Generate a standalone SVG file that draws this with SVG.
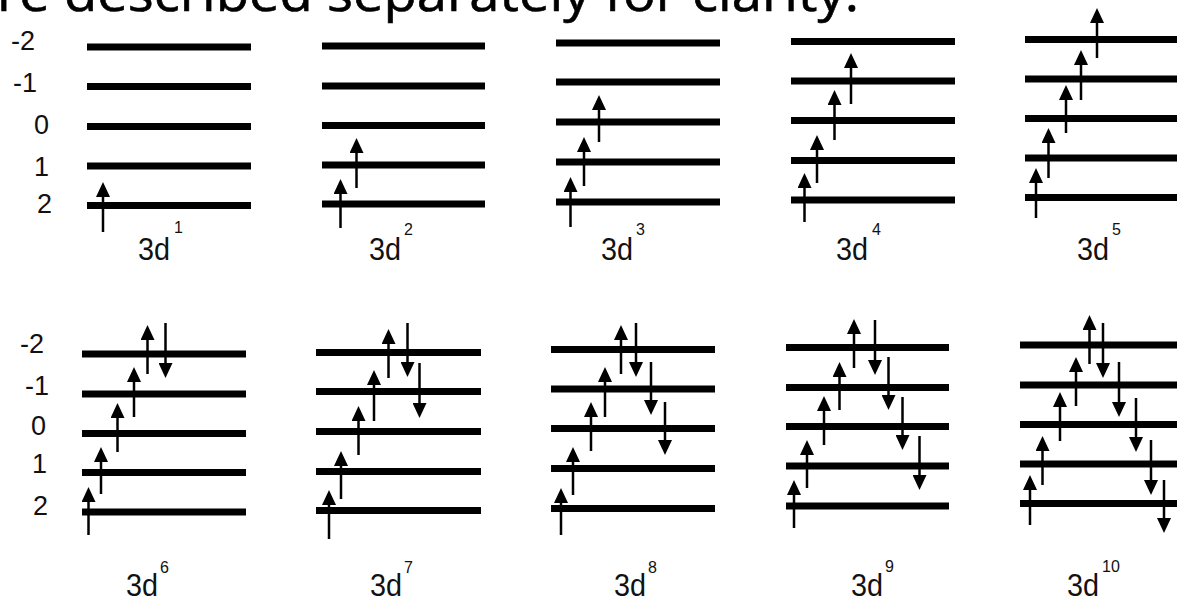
<svg xmlns="http://www.w3.org/2000/svg" width="1177" height="600" viewBox="0 0 1177 600">
<style>
.lv{stroke:#000;stroke-width:7;stroke-linecap:butt}
.ar{stroke:#000;stroke-width:2.5;marker-end:url(#head)}
.ml{font-family:"Liberation Sans",Arial,sans-serif;font-size:27px;fill:#111}
.cf{font-family:"Liberation Sans",Arial,sans-serif;font-size:32px;fill:#111}
.sp{font-family:"Liberation Sans",Arial,sans-serif;font-size:16px;fill:#111}
.hd{font-family:"Open Sans","DejaVu Sans",sans-serif;font-size:52px;font-weight:400;fill:#000;stroke:#000;stroke-width:0.6}
</style>
<defs>
<marker id="head" viewBox="0 0 15 14" refX="10" refY="7" markerWidth="15" markerHeight="14" markerUnits="userSpaceOnUse" orient="auto">
<path d="M0,0 L15,7 L0,14 Z" fill="#000"/>
</marker>
</defs>
<rect width="1177" height="600" fill="#fff"/>
<text class="hd" x="-3" y="11" textLength="862" lengthAdjust="spacingAndGlyphs">re described separately for clarity.</text>

<g id="mlabels-top">
<text class="ml" x="11" y="50">-2</text>
<text class="ml" x="13" y="92">-1</text>
<text class="ml" x="34" y="134">0</text>
<text class="ml" x="34" y="176">1</text>
<text class="ml" x="37" y="213">2</text>
</g>
<g id="mlabels-bottom">
<text class="ml" x="20" y="353">-2</text>
<text class="ml" x="25" y="395">-1</text>
<text class="ml" x="31" y="435">0</text>
<text class="ml" x="32" y="473">1</text>
<text class="ml" x="33" y="515">2</text>
</g>

<g id="d1">
<line class="lv" x1="87" y1="47" x2="251" y2="47"/>
<line class="lv" x1="87" y1="86.5" x2="251" y2="86.5"/>
<line class="lv" x1="87" y1="126.5" x2="251" y2="126.5"/>
<line class="lv" x1="87" y1="166" x2="251" y2="166"/>
<line class="lv" x1="87" y1="205.5" x2="251" y2="205.5"/>
<line class="ar" x1="103" y1="232" x2="103" y2="187"/>
<text class="cf" x="138" y="260" textLength="32" lengthAdjust="spacingAndGlyphs">3d</text><text class="sp" x="174" y="233">1</text>
</g>

<g id="d2">
<line class="lv" x1="322" y1="46" x2="485" y2="46"/>
<line class="lv" x1="322" y1="86" x2="485" y2="86"/>
<line class="lv" x1="322" y1="125.5" x2="485" y2="125.5"/>
<line class="lv" x1="322" y1="165" x2="485" y2="165"/>
<line class="lv" x1="322" y1="204" x2="485" y2="204"/>
<line class="ar" x1="340.5" y1="228" x2="340.5" y2="184"/>
<line class="ar" x1="356.5" y1="188" x2="356.5" y2="143"/>
<text class="cf" x="369" y="260" textLength="32" lengthAdjust="spacingAndGlyphs">3d</text><text class="sp" x="404" y="235">2</text>
</g>

<g id="d3">
<line class="lv" x1="556" y1="43" x2="720" y2="43"/>
<line class="lv" x1="556" y1="82" x2="720" y2="82"/>
<line class="lv" x1="556" y1="122" x2="720" y2="122"/>
<line class="lv" x1="556" y1="162" x2="720" y2="162"/>
<line class="lv" x1="556" y1="202" x2="720" y2="202"/>
<line class="ar" x1="570.5" y1="227" x2="570.5" y2="182"/>
<line class="ar" x1="584" y1="186" x2="584" y2="142"/>
<line class="ar" x1="599" y1="142" x2="599" y2="100"/>
<text class="cf" x="601" y="260" textLength="32" lengthAdjust="spacingAndGlyphs">3d</text><text class="sp" x="636" y="235">3</text>
</g>

<g id="d4">
<line class="lv" x1="791" y1="41.5" x2="955" y2="41.5"/>
<line class="lv" x1="791" y1="81" x2="955" y2="81"/>
<line class="lv" x1="791" y1="120.5" x2="955" y2="120.5"/>
<line class="lv" x1="791" y1="160.5" x2="955" y2="160.5"/>
<line class="lv" x1="791" y1="200" x2="955" y2="200"/>
<line class="ar" x1="804.5" y1="222" x2="804.5" y2="178"/>
<line class="ar" x1="817" y1="183" x2="817" y2="140"/>
<line class="ar" x1="834.5" y1="140" x2="834.5" y2="95"/>
<line class="ar" x1="851" y1="104" x2="851" y2="58"/>
<text class="cf" x="836" y="260" textLength="32" lengthAdjust="spacingAndGlyphs">3d</text><text class="sp" x="872" y="235">4</text>
</g>

<g id="d5">
<line class="lv" x1="1025" y1="39.5" x2="1190" y2="39.5"/>
<line class="lv" x1="1025" y1="79" x2="1190" y2="79"/>
<line class="lv" x1="1025" y1="118.5" x2="1190" y2="118.5"/>
<line class="lv" x1="1025" y1="158" x2="1190" y2="158"/>
<line class="lv" x1="1025" y1="197.5" x2="1190" y2="197.5"/>
<line class="ar" x1="1036" y1="218" x2="1036" y2="173"/>
<line class="ar" x1="1048.5" y1="178" x2="1048.5" y2="133"/>
<line class="ar" x1="1066" y1="133" x2="1066" y2="90"/>
<line class="ar" x1="1081" y1="100" x2="1081" y2="55"/>
<line class="ar" x1="1097" y1="58" x2="1097" y2="13"/>
<text class="cf" x="1077" y="260" textLength="32" lengthAdjust="spacingAndGlyphs">3d</text><text class="sp" x="1112" y="235">5</text>
</g>

<g id="d6">
<line class="lv" x1="82" y1="354" x2="246" y2="354"/>
<line class="lv" x1="82" y1="394" x2="246" y2="394"/>
<line class="lv" x1="82" y1="433.5" x2="246" y2="433.5"/>
<line class="lv" x1="82" y1="472.5" x2="246" y2="472.5"/>
<line class="lv" x1="82" y1="512" x2="246" y2="512"/>
<line class="ar" x1="88.5" y1="535" x2="88.5" y2="492"/>
<line class="ar" x1="101" y1="494" x2="101" y2="452"/>
<line class="ar" x1="117.5" y1="452" x2="117.5" y2="408"/>
<line class="ar" x1="134" y1="417" x2="134" y2="372"/>
<line class="ar" x1="147.5" y1="374" x2="147.5" y2="330"/>
<line class="ar" x1="165.5" y1="323" x2="165.5" y2="373"/>
<text class="cf" x="126" y="596" textLength="32" lengthAdjust="spacingAndGlyphs">3d</text><text class="sp" x="160" y="573">6</text>
</g>

<g id="d7">
<line class="lv" x1="316" y1="352.5" x2="481" y2="352.5"/>
<line class="lv" x1="316" y1="391.5" x2="481" y2="391.5"/>
<line class="lv" x1="316" y1="431.5" x2="481" y2="431.5"/>
<line class="lv" x1="316" y1="471.5" x2="481" y2="471.5"/>
<line class="lv" x1="316" y1="510.5" x2="481" y2="510.5"/>
<line class="ar" x1="329" y1="539" x2="329" y2="495"/>
<line class="ar" x1="341" y1="499" x2="341" y2="456"/>
<line class="ar" x1="358.5" y1="455" x2="358.5" y2="411"/>
<line class="ar" x1="374" y1="421" x2="374" y2="375"/>
<line class="ar" x1="388.5" y1="378" x2="388.5" y2="334"/>
<line class="ar" x1="407.5" y1="323" x2="407.5" y2="372"/>
<line class="ar" x1="419.5" y1="363" x2="419.5" y2="413"/>
<text class="cf" x="370" y="596" textLength="32" lengthAdjust="spacingAndGlyphs">3d</text><text class="sp" x="404" y="573">7</text>
</g>

<g id="d8">
<line class="lv" x1="551" y1="349.5" x2="715" y2="349.5"/>
<line class="lv" x1="551" y1="389" x2="715" y2="389"/>
<line class="lv" x1="551" y1="428.5" x2="715" y2="428.5"/>
<line class="lv" x1="551" y1="468.5" x2="715" y2="468.5"/>
<line class="lv" x1="551" y1="508.5" x2="715" y2="508.5"/>
<line class="ar" x1="561" y1="535" x2="561" y2="493"/>
<line class="ar" x1="573" y1="495" x2="573" y2="452"/>
<line class="ar" x1="591" y1="451" x2="591" y2="407"/>
<line class="ar" x1="605" y1="417" x2="605" y2="372"/>
<line class="ar" x1="621" y1="374" x2="621" y2="330"/>
<line class="ar" x1="636" y1="323" x2="636" y2="372"/>
<line class="ar" x1="651" y1="362" x2="651" y2="410"/>
<line class="ar" x1="665" y1="402" x2="665" y2="450"/>
<text class="cf" x="614" y="596" textLength="32" lengthAdjust="spacingAndGlyphs">3d</text><text class="sp" x="648" y="573">8</text>
</g>

<g id="d9">
<line class="lv" x1="786" y1="347.5" x2="949" y2="347.5"/>
<line class="lv" x1="786" y1="387.5" x2="949" y2="387.5"/>
<line class="lv" x1="786" y1="426.5" x2="949" y2="426.5"/>
<line class="lv" x1="786" y1="466" x2="949" y2="466"/>
<line class="lv" x1="786" y1="506" x2="949" y2="506"/>
<line class="ar" x1="794" y1="528" x2="794" y2="485"/>
<line class="ar" x1="807" y1="488" x2="807" y2="445"/>
<line class="ar" x1="824" y1="445" x2="824" y2="401"/>
<line class="ar" x1="839.5" y1="410" x2="839.5" y2="367"/>
<line class="ar" x1="854" y1="368" x2="854" y2="324"/>
<line class="ar" x1="875" y1="320" x2="875" y2="370"/>
<line class="ar" x1="888.5" y1="357" x2="888.5" y2="405"/>
<line class="ar" x1="902.5" y1="397" x2="902.5" y2="445"/>
<line class="ar" x1="919.5" y1="436" x2="919.5" y2="485"/>
<text class="cf" x="851" y="596" textLength="32" lengthAdjust="spacingAndGlyphs">3d</text><text class="sp" x="885" y="572">9</text>
</g>

<g id="d10">
<line class="lv" x1="1020" y1="345" x2="1190" y2="345"/>
<line class="lv" x1="1020" y1="385" x2="1190" y2="385"/>
<line class="lv" x1="1020" y1="424.5" x2="1190" y2="424.5"/>
<line class="lv" x1="1020" y1="464" x2="1190" y2="464"/>
<line class="lv" x1="1020" y1="503.5" x2="1190" y2="503.5"/>
<line class="ar" x1="1030" y1="525" x2="1030" y2="480"/>
<line class="ar" x1="1042.5" y1="485" x2="1042.5" y2="441"/>
<line class="ar" x1="1060" y1="441" x2="1060" y2="397"/>
<line class="ar" x1="1076" y1="406" x2="1076" y2="362"/>
<line class="ar" x1="1089.5" y1="364" x2="1089.5" y2="320"/>
<line class="ar" x1="1103" y1="323" x2="1103" y2="373"/>
<line class="ar" x1="1119" y1="362" x2="1119" y2="412"/>
<line class="ar" x1="1136" y1="398" x2="1136" y2="447"/>
<line class="ar" x1="1151" y1="440" x2="1151" y2="490"/>
<line class="ar" x1="1164" y1="480" x2="1164" y2="528"/>
<text class="cf" x="1067" y="596" textLength="32" lengthAdjust="spacingAndGlyphs">3d</text><text class="sp" x="1102" y="572">10</text>
</g>
</svg>
